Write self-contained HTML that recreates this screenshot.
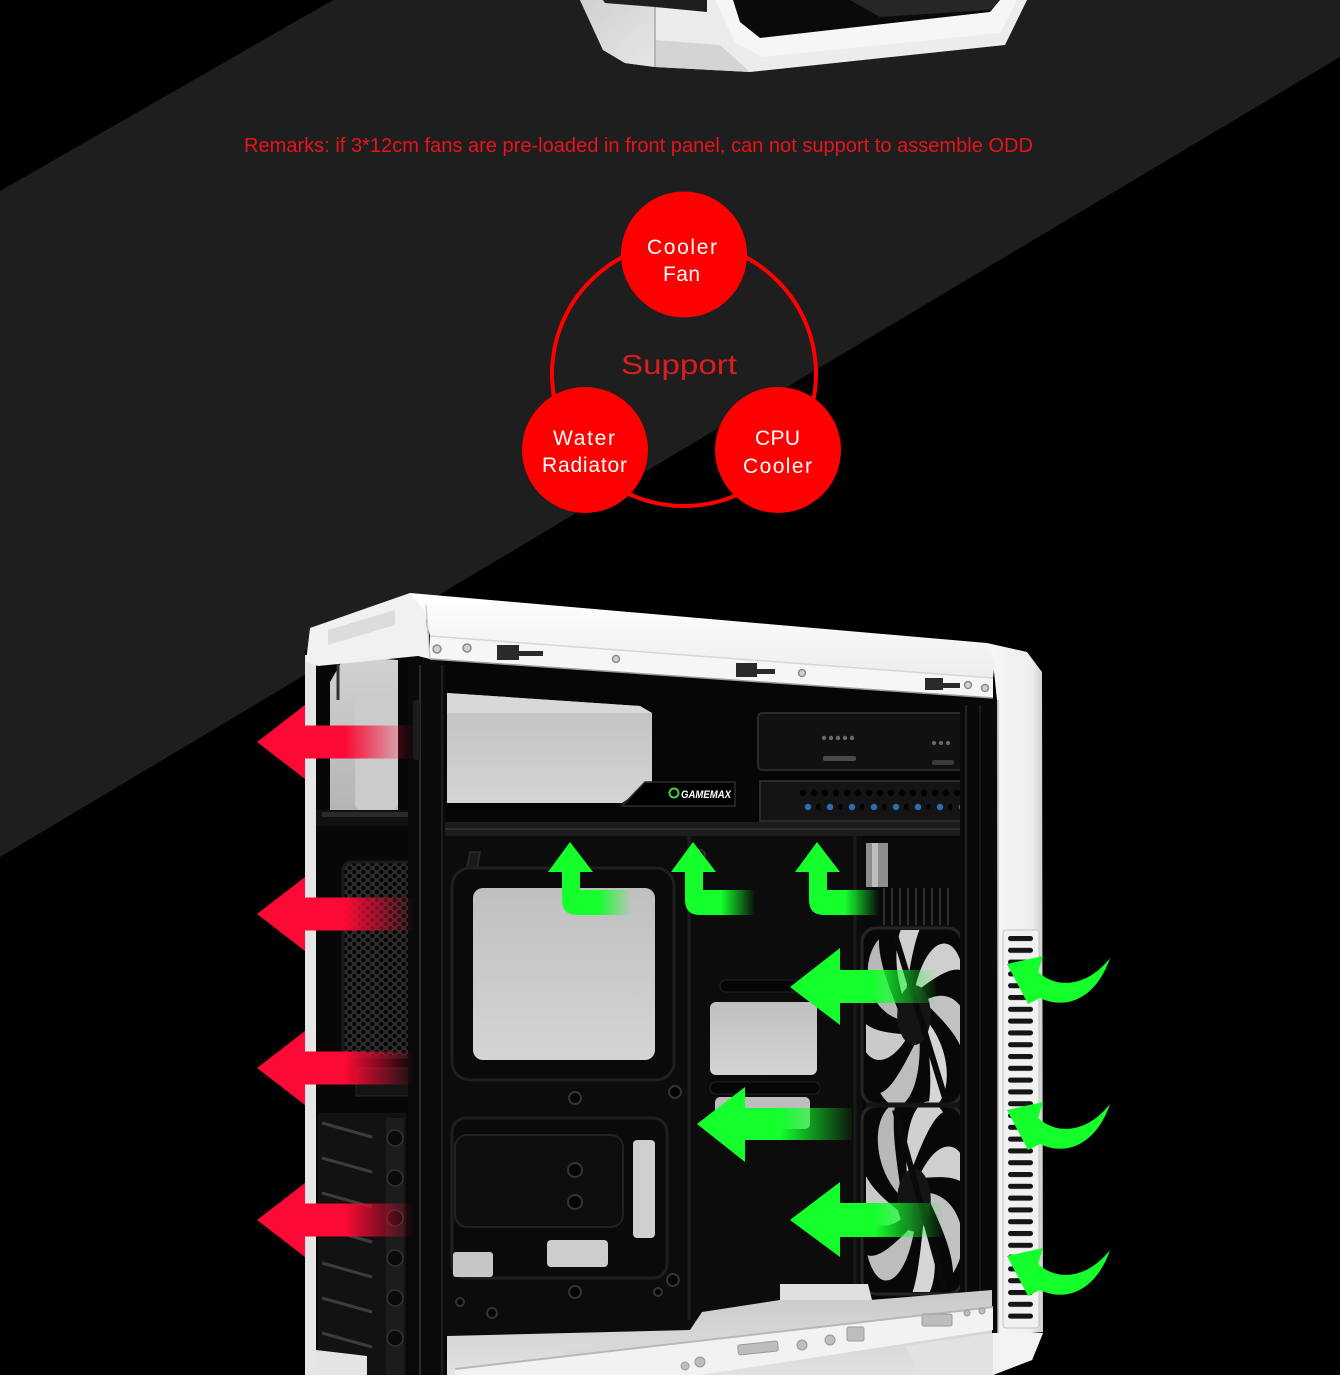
<!DOCTYPE html>
<html><head><meta charset="utf-8">
<style>html,body{margin:0;padding:0;background:#000;}svg{display:block}</style>
</head>
<body>
<svg width="1340" height="1375" viewBox="0 0 1340 1375" xmlns="http://www.w3.org/2000/svg">
<defs>
  <linearGradient id="redL" gradientUnits="userSpaceOnUse" x1="345" y1="0" x2="414" y2="0">
    <stop offset="0" stop-color="#fb0a35"/><stop offset="1" stop-color="#fb0a35" stop-opacity="0"/>
  </linearGradient>
  <linearGradient id="gU" gradientUnits="userSpaceOnUse" x1="598" y1="0" x2="632" y2="0">
    <stop offset="0" stop-color="#14ff2c"/><stop offset="1" stop-color="#14ff2c" stop-opacity="0"/>
  </linearGradient>
  <linearGradient id="gA" gradientUnits="userSpaceOnUse" x1="872" y1="0" x2="936" y2="0">
    <stop offset="0" stop-color="#14ff2c"/><stop offset="1" stop-color="#14ff2c" stop-opacity="0.05"/>
  </linearGradient>
  <linearGradient id="gB" gradientUnits="userSpaceOnUse" x1="780" y1="0" x2="852" y2="0">
    <stop offset="0" stop-color="#14ff2c"/><stop offset="1" stop-color="#14ff2c" stop-opacity="0.05"/>
  </linearGradient>
  <linearGradient id="gC" gradientUnits="userSpaceOnUse" x1="875" y1="0" x2="942" y2="0">
    <stop offset="0" stop-color="#14ff2c"/><stop offset="1" stop-color="#14ff2c" stop-opacity="0.05"/>
  </linearGradient>
  <linearGradient id="grayV" x1="0" y1="0" x2="0" y2="1">
    <stop offset="0" stop-color="#d2d2d2"/><stop offset="1" stop-color="#b4b4b4"/>
  </linearGradient>
  <linearGradient id="grayV2" x1="0" y1="0" x2="0" y2="1">
    <stop offset="0" stop-color="#c0c0c0"/><stop offset="1" stop-color="#d4d4d4"/>
  </linearGradient>
  <linearGradient id="colR" x1="0" y1="0" x2="1" y2="0">
    <stop offset="0" stop-color="#f7f7f7"/><stop offset="0.8" stop-color="#eeeeee"/><stop offset="1" stop-color="#cfcfcf"/>
  </linearGradient>
  <linearGradient id="lidT" x1="0" y1="0" x2="0" y2="1">
    <stop offset="0" stop-color="#ffffff"/><stop offset="1" stop-color="#ededed"/>
  </linearGradient>
  <linearGradient id="floorG" x1="0" y1="0" x2="0" y2="1">
    <stop offset="0" stop-color="#c9c9c9"/><stop offset="1" stop-color="#e2e2e2"/>
  </linearGradient>
  <linearGradient id="topL" x1="0" y1="0" x2="1" y2="1">
    <stop offset="0" stop-color="#d0d0d0"/><stop offset="1" stop-color="#e6e6e6"/>
  </linearGradient>
  <pattern id="hex" patternUnits="userSpaceOnUse" x="343" y="862" width="9" height="8">
    <rect width="9" height="8" fill="#2c2c2c"/>
    <circle cx="2.25" cy="2" r="2.2" fill="#050505"/>
    <circle cx="6.75" cy="6" r="2.2" fill="#050505"/>
  </pattern>
  <pattern id="slat" patternUnits="userSpaceOnUse" x="1008" y="936" width="26" height="11.8">
    <rect width="26" height="11.8" fill="#f1f1f1"/>
    <rect x="0" y="0" width="25" height="5" rx="2.5" fill="#151515"/>
  </pattern>
  <pattern id="odd" patternUnits="userSpaceOnUse" x="798" y="786" width="22" height="28">
    <rect width="22" height="28" fill="#141414"/>
    <circle cx="5" cy="7" r="3.2" fill="#000"/>
    <circle cx="16" cy="7" r="3.2" fill="#000"/>
    <circle cx="10" cy="21" r="3.2" fill="#2a6db3"/>
    <circle cx="21" cy="21" r="3" fill="#000"/>
  </pattern>
  <clipPath id="fanclip"><rect x="866" y="930" width="96" height="362"/></clipPath>
  <g id="blades">
    <path d="M0,-22 C20,-78 72,-88 88,-44 C66,-50 34,-36 0,-22 Z" fill="#cfcfcf"/>
    <path d="M0,-22 C20,-78 72,-88 88,-44 C66,-50 34,-36 0,-22 Z" fill="#c2c2c2" transform="rotate(51.4)"/>
    <path d="M0,-22 C20,-78 72,-88 88,-44 C66,-50 34,-36 0,-22 Z" fill="#d6d6d6" transform="rotate(102.8)"/>
    <path d="M0,-22 C20,-78 72,-88 88,-44 C66,-50 34,-36 0,-22 Z" fill="#bdbdbd" transform="rotate(154.2)"/>
    <path d="M0,-22 C20,-78 72,-88 88,-44 C66,-50 34,-36 0,-22 Z" fill="#cacaca" transform="rotate(205.6)"/>
    <path d="M0,-22 C20,-78 72,-88 88,-44 C66,-50 34,-36 0,-22 Z" fill="#b8b8b8" transform="rotate(257)"/>
    <path d="M0,-22 C20,-78 72,-88 88,-44 C66,-50 34,-36 0,-22 Z" fill="#d0d0d0" transform="rotate(308.4)"/>
    <circle r="30" fill="#141414"/>
  </g>
</defs>

<!-- background -->
<rect width="1340" height="1375" fill="#000"/>
<polygon points="0,191 333,0 1340,0 1340,57 0,857" fill="#1e1e1e"/>

<!-- top case (partial) -->
<polygon points="580,0 1027,0 1005,45 750,72 655,67 625,63 603,50" fill="#ececec"/>
<polygon points="580,0 655,0 655,67 625,63 603,50" fill="url(#topL)"/>
<polygon points="655,40 720,45 750,72 655,67" fill="#d4d4d4"/>
<line x1="655" y1="4" x2="655" y2="67" stroke="#a8a8a8" stroke-width="1.5"/>
<polygon points="603,0 707,0 707,12 655,7 605,3" fill="#1e1e1e"/>
<polygon points="715,0 1017,0 1000,33 762,57 735,42" fill="#f6f6f6"/>
<polygon points="733,0 1000,0 990,12 760,38 740,22" fill="#0a0a0a"/>
<polygon points="850,0 1000,0 990,10 880,17" fill="#262626"/>

<!-- remarks -->
<text x="244" y="152" font-family="Liberation Sans, sans-serif" font-size="20" fill="#e8141b" textLength="789" lengthAdjust="spacingAndGlyphs">Remarks: if 3*12cm fans are pre-loaded in front panel, can not support to assemble ODD</text>

<!-- support diagram -->
<circle cx="684" cy="374" r="132" fill="none" stroke="#ff0000" stroke-width="4"/>
<circle cx="684" cy="254.5" r="63" fill="#ff0000"/>
<circle cx="585" cy="450" r="63" fill="#ff0000"/>
<circle cx="778" cy="450" r="63" fill="#ff0000"/>
<g font-family="Liberation Sans, sans-serif" font-size="21" fill="#ffffff" lengthAdjust="spacingAndGlyphs">
  <text x="647" y="254" textLength="70">Cooler</text>
  <text x="663" y="281" textLength="37">Fan</text>
  <text x="553" y="445" textLength="62">Water</text>
  <text x="542" y="472" textLength="85">Radiator</text>
  <text x="755" y="445" textLength="45">CPU</text>
  <text x="743" y="473" textLength="69">Cooler</text>
</g>
<text x="621" y="374" font-family="Liberation Sans, sans-serif" font-size="28" fill="#dd1c1c" textLength="116" lengthAdjust="spacingAndGlyphs">Support</text>

<!-- ===== main case ===== -->
<!-- interior base -->
<rect x="305" y="650" width="700" height="725" fill="#070707"/>
<!-- white left side strip -->
<rect x="305" y="655" width="11" height="720" fill="#e6e6e6"/>

<!-- rear window (PSU) -->
<polygon points="330,682 345,656 398,660 398,810 330,810" fill="url(#grayV)"/>
<rect x="355" y="695" width="43" height="115" rx="6" fill="#cbcbcb"/>
<line x1="338" y1="662" x2="338" y2="700" stroke="#333" stroke-width="3"/>
<rect x="316" y="810" width="110" height="16" fill="#111"/>
<rect x="322" y="812" width="95" height="5" fill="#2a2a2a"/>

<!-- rear fan mesh -->
<rect x="343" y="862" width="72" height="195" rx="8" fill="url(#hex)"/>
<rect x="343" y="862" width="72" height="195" rx="8" fill="none" stroke="#1a1a1a" stroke-width="3"/>
<rect x="356" y="1068" width="60" height="28" fill="#141414" stroke="#262626"/>

<!-- PCI slots -->
<rect x="318" y="1113" width="88" height="262" fill="#121212"/>
<g stroke="#3c3c3c" stroke-width="3">
  <line x1="322" y1="1123" x2="372" y2="1137"/>
  <line x1="322" y1="1158" x2="372" y2="1172"/>
  <line x1="322" y1="1193" x2="372" y2="1207"/>
  <line x1="322" y1="1228" x2="372" y2="1242"/>
  <line x1="322" y1="1263" x2="372" y2="1277"/>
  <line x1="322" y1="1298" x2="372" y2="1312"/>
  <line x1="322" y1="1333" x2="372" y2="1347"/>
</g>
<rect x="386" y="1118" width="18" height="257" fill="#1c1c1c"/>
<g fill="#0b0b0b" stroke="#333" stroke-width="1.5">
  <circle cx="395" cy="1138" r="8"/><circle cx="395" cy="1178" r="8"/><circle cx="395" cy="1218" r="8"/>
  <circle cx="395" cy="1258" r="8"/><circle cx="395" cy="1298" r="8"/><circle cx="395" cy="1338" r="8"/>
</g>
<polygon points="316,1350 367,1356 367,1375 316,1375" fill="#e4e4e4"/>

<!-- rear vertical frame -->
<rect x="408" y="660" width="37" height="715" fill="#0a0a0a"/>
<line x1="420" y1="665" x2="420" y2="1375" stroke="#2a2a2a" stroke-width="2"/>
<line x1="442" y1="665" x2="442" y2="1375" stroke="#1e1e1e" stroke-width="2"/>
<rect x="413" y="700" width="7" height="60" rx="3" fill="#1c1c1c"/>

<!-- top interior -->
<rect x="445" y="660" width="530" height="175" fill="#060606"/>
<polygon points="447,693 640,706 652,713 652,783 622,803 447,803" fill="url(#grayV2)"/>
<polygon points="447,693 640,706 652,713 447,713" fill="#d8d8d8"/>
<rect x="445" y="822" width="530" height="14" fill="#1c1c1c"/>
<line x1="445" y1="829" x2="975" y2="829" stroke="#2e2e2e" stroke-width="2"/>

<!-- GAMEMAX badge -->
<polygon points="622,806 645,782 735,782 735,806" fill="#000" stroke="#2d2d2d" stroke-width="1.5"/>
<circle cx="674" cy="793" r="4.5" fill="none" stroke="#3fd23f" stroke-width="2"/>
<text x="681" y="798" font-family="Liberation Sans, sans-serif" font-size="11" font-weight="bold" font-style="italic" fill="#ffffff" textLength="50" lengthAdjust="spacingAndGlyphs">GAMEMAX</text>

<!-- ODD bay -->
<rect x="758" y="713" width="214" height="57" rx="4" fill="#111" stroke="#2a2a2a" stroke-width="2"/>
<g fill="#6a6a6a">
  <circle cx="824" cy="738" r="2.2"/><circle cx="831" cy="738" r="2.2"/><circle cx="838" cy="738" r="2.2"/><circle cx="845" cy="738" r="2.2"/><circle cx="852" cy="738" r="2.2"/>
  <circle cx="934" cy="743" r="2"/><circle cx="941" cy="743" r="2"/><circle cx="948" cy="743" r="2"/>
</g>
<rect x="823" y="756" width="33" height="5" rx="2" fill="#4a4a4a"/>
<rect x="932" y="760" width="22" height="5" rx="2" fill="#3a3a3a"/>
<rect x="967" y="727" width="6" height="48" rx="2" fill="#8a8a8a"/>
<rect x="760" y="781" width="208" height="40" fill="#141414" stroke="#2a2a2a" stroke-width="2"/>
<rect x="798" y="786" width="165" height="30" fill="url(#odd)"/>

<!-- motherboard tray -->
<rect x="445" y="836" width="418" height="500" fill="#0c0c0c"/>
<!-- rear fan ring (inside) -->
<path d="M470,852 Q446,960 470,1075 L480,1075 Q462,960 480,852 Z" fill="#1a1a1a" stroke="#2a2a2a" stroke-width="1.5"/>
<rect x="452" y="868" width="222" height="212" rx="18" fill="#0a0a0a" stroke="#1f1f1f" stroke-width="3"/>
<rect x="473" y="888" width="182" height="172" rx="10" fill="url(#grayV2)"/>
<!-- divider -->
<line x1="689" y1="836" x2="689" y2="1320" stroke="#1e1e1e" stroke-width="3"/>
<line x1="855" y1="836" x2="855" y2="1320" stroke="#1a1a1a" stroke-width="3"/>
<rect x="720" y="980" width="90" height="12" rx="6" fill="#050505" stroke="#222"/>
<rect x="710" y="1002" width="107" height="73" rx="6" fill="url(#grayV2)"/>
<rect x="710" y="1082" width="110" height="12" rx="6" fill="#050505" stroke="#222"/>
<rect x="715" y="1097" width="95" height="32" rx="5" fill="#bdbdbd"/>
<rect x="452" y="1118" width="215" height="160" rx="14" fill="#0a0a0a" stroke="#1f1f1f" stroke-width="3"/>
<rect x="455" y="1135" width="168" height="92" rx="12" fill="#0e0e0e" stroke="#222" stroke-width="2"/>
<rect x="633" y="1140" width="22" height="98" rx="4" fill="#cfcfcf"/>
<rect x="453" y="1252" width="40" height="25" rx="3" fill="#c6c6c6"/>
<rect x="547" y="1240" width="61" height="27" rx="4" fill="#cccccc"/>
<g fill="#050505" stroke="#333" stroke-width="2">
  <circle cx="575" cy="1098" r="6"/><circle cx="575" cy="1170" r="7"/><circle cx="575" cy="1202" r="7"/>
  <circle cx="575" cy="1292" r="6"/><circle cx="675" cy="1092" r="6"/><circle cx="673" cy="1280" r="6"/>
  <circle cx="492" cy="1313" r="5"/><circle cx="658" cy="1292" r="4"/><circle cx="570" cy="855" r="5"/>
  <circle cx="700" cy="855" r="5"/><circle cx="460" cy="1302" r="4"/>
</g>

<!-- right HDD/cage top area -->
<rect x="862" y="838" width="100" height="92" fill="#0a0a0a"/>
<rect x="866" y="843" width="22" height="44" fill="#8e8e8e"/>
<rect x="872" y="843" width="6" height="44" fill="#bdbdbd"/>
<g stroke="#2e2e2e" stroke-width="2">
  <line x1="884" y1="888" x2="884" y2="925"/><line x1="892" y1="888" x2="892" y2="925"/><line x1="900" y1="888" x2="900" y2="925"/>
  <line x1="908" y1="888" x2="908" y2="925"/><line x1="916" y1="888" x2="916" y2="925"/><line x1="924" y1="888" x2="924" y2="925"/>
  <line x1="932" y1="888" x2="932" y2="925"/><line x1="940" y1="888" x2="940" y2="925"/><line x1="948" y1="888" x2="948" y2="925"/>
</g>

<!-- fans -->
<rect x="862" y="928" width="100" height="176" rx="14" fill="#080808" stroke="#262626" stroke-width="3"/>
<rect x="862" y="1106" width="100" height="188" rx="14" fill="#080808" stroke="#262626" stroke-width="3"/>
<g clip-path="url(#fanclip)">
  <use href="#blades" transform="translate(914,1015) scale(0.56,1)"/>
  <use href="#blades" transform="translate(914,1200) scale(0.56,1.05) rotate(20)"/>
  <g stroke="#0a0a0a" stroke-width="6">
    <line x1="895" y1="935" x2="945" y2="1098"/>
    <line x1="895" y1="1110" x2="945" y2="1290"/>
  </g>
</g>
<line x1="866" y1="1105" x2="960" y2="1105" stroke="#141414" stroke-width="5"/>

<!-- right inner frame -->
<rect x="960" y="700" width="38" height="635" fill="#090909"/>
<line x1="966" y1="705" x2="966" y2="1330" stroke="#222" stroke-width="2"/>
<line x1="980" y1="705" x2="980" y2="1330" stroke="#1a1a1a" stroke-width="2"/>

<!-- floor -->
<polygon points="447,1336 690,1330 702,1312 780,1300 870,1300 992,1290 992,1375 447,1375" fill="url(#floorG)"/>
<polygon points="780,1284 868,1284 872,1300 780,1300" fill="#e0e0e0"/>
<polygon points="560,1350 700,1335 860,1325 860,1345 600,1372" fill="#d6d6d6" opacity="0.6"/>
<!-- front lip -->
<polygon points="455,1369 993,1307 993,1330 700,1375 455,1375" fill="#f2f2f2"/>
<line x1="455" y1="1369" x2="993" y2="1307" stroke="#b8b8b8" stroke-width="2"/>
<g fill="#bdbdbd" stroke="#9a9a9a" stroke-width="1">
  <rect x="738" y="1343" width="40" height="10" rx="2" transform="rotate(-6 758 1348)"/>
  <circle cx="802" cy="1345" r="5"/><circle cx="830" cy="1340" r="5"/>
  <rect x="847" y="1327" width="17" height="14" rx="2"/>
  <rect x="922" y="1314" width="30" height="12" rx="2"/>
  <circle cx="967" cy="1313" r="3"/><circle cx="982" cy="1311" r="3"/>
  <circle cx="700" cy="1362" r="5"/><circle cx="685" cy="1366" r="4"/>
</g>

<!-- right front column -->
<polygon points="987,643 1027,652 1042,672 1043,1332 998,1336 997,700 993,662" fill="url(#colR)"/>
<line x1="998" y1="700" x2="998" y2="1336" stroke="#b5b5b5" stroke-width="1.5"/>
<rect x="1003" y="930" width="36" height="398" rx="3" fill="#f1f1f1" stroke="#c4c4c4" stroke-width="1"/>
<rect x="1008" y="936" width="26" height="387" fill="url(#slat)"/>
<!-- foot -->
<polygon points="905,1346 993,1333 1043,1333 1032,1360 993,1375 920,1375" fill="#e2e2e2"/>
<polygon points="993,1333 1043,1333 1032,1360 993,1375" fill="#f3f3f3"/>

<!-- lid -->
<polygon points="306,662 310,628 410,593 425,608 430,659 418,656 318,666" fill="#f1f1f1"/>
<polygon points="328,630 395,610 395,625 328,645" fill="#dcdcdc"/>
<polygon points="410,593 987,643 995,660 993,678 430,636 424,610" fill="url(#lidT)"/>
<polygon points="430,636 993,678 993,698 430,659" fill="#f6f6f6"/>
<line x1="430" y1="636" x2="993" y2="678" stroke="#d6d6d6" stroke-width="1.5"/>
<line x1="430" y1="659" x2="993" y2="698" stroke="#9a9a9a" stroke-width="1.5"/>
<line x1="426" y1="605" x2="430" y2="659" stroke="#cfcfcf" stroke-width="1.5"/>
<g fill="#d0d0d0" stroke="#8a8a8a" stroke-width="1.5">
  <circle cx="437" cy="649" r="4"/><circle cx="467" cy="648" r="4"/><circle cx="616" cy="659" r="3.5"/>
  <circle cx="802" cy="673" r="3.5"/><circle cx="968" cy="685" r="3.5"/><circle cx="985" cy="688" r="3.5"/>
</g>
<g fill="#2a2a2a">
  <rect x="497" y="645" width="22" height="15"/><rect x="519" y="651" width="24" height="5"/>
  <rect x="736" y="663" width="21" height="14"/><rect x="757" y="669" width="18" height="5"/>
  <rect x="925" y="678" width="18" height="12"/><rect x="943" y="683" width="17" height="5"/>
</g>

<!-- red exhaust arrows -->
<g fill="url(#redL)">
  <path d="M257,742 L305,705 L305,725.5 L415,725.5 L415,758.5 L305,758.5 L305,779 Z"/>
  <path d="M257,914 L305,877 L305,897.5 L415,897.5 L415,930.5 L305,930.5 L305,951 Z"/>
  <path d="M257,1068 L305,1031 L305,1051.5 L415,1051.5 L415,1084.5 L305,1084.5 L305,1105 Z"/>
  <path d="M257,1220 L305,1183 L305,1203.5 L415,1203.5 L415,1236.5 L305,1236.5 L305,1257 Z"/>
</g>

<!-- green up-elbow arrows -->
<g fill="url(#gU)">
  <path d="M570,842 L593,872 L580,872 L580,890 L632,890 L632,915 L577,915 Q562,915 562,900 L562,872 L548,872 Z"/>
  <path d="M570,842 L593,872 L580,872 L580,890 L632,890 L632,915 L577,915 Q562,915 562,900 L562,872 L548,872 Z" transform="translate(123,0)"/>
  <path d="M570,842 L593,872 L580,872 L580,890 L632,890 L632,915 L577,915 Q562,915 562,900 L562,872 L548,872 Z" transform="translate(247,0)"/>
</g>

<!-- green left arrows -->
<path d="M790,987 L840,948 L840,970 L936,970 L936,1003 L840,1003 L840,1025 Z" fill="url(#gA)"/>
<path d="M697,1124 L745,1087 L745,1108 L852,1108 L852,1140 L745,1140 L745,1162 Z" fill="url(#gB)"/>
<path d="M790,1220 L840,1182 L840,1203 L942,1203 L942,1237 L840,1237 L840,1257 Z" fill="url(#gC)"/>

<!-- green curved intake arrows -->
<g fill="#14ff2c">
  <path d="M1007,964 L1043,956 L1038,972 C1058,990 1088,986 1110,958 C1098,994 1070,1012 1040,998 L1028,1004 Z"/>
  <path d="M1007,964 L1043,956 L1038,972 C1058,990 1088,986 1110,958 C1098,994 1070,1012 1040,998 L1028,1004 Z" transform="translate(0,146)"/>
  <path d="M1007,964 L1043,956 L1038,972 C1058,990 1088,986 1110,958 C1098,994 1070,1012 1040,998 L1028,1004 Z" transform="translate(0,292)"/>
</g>
</svg>
</body>
</html>
